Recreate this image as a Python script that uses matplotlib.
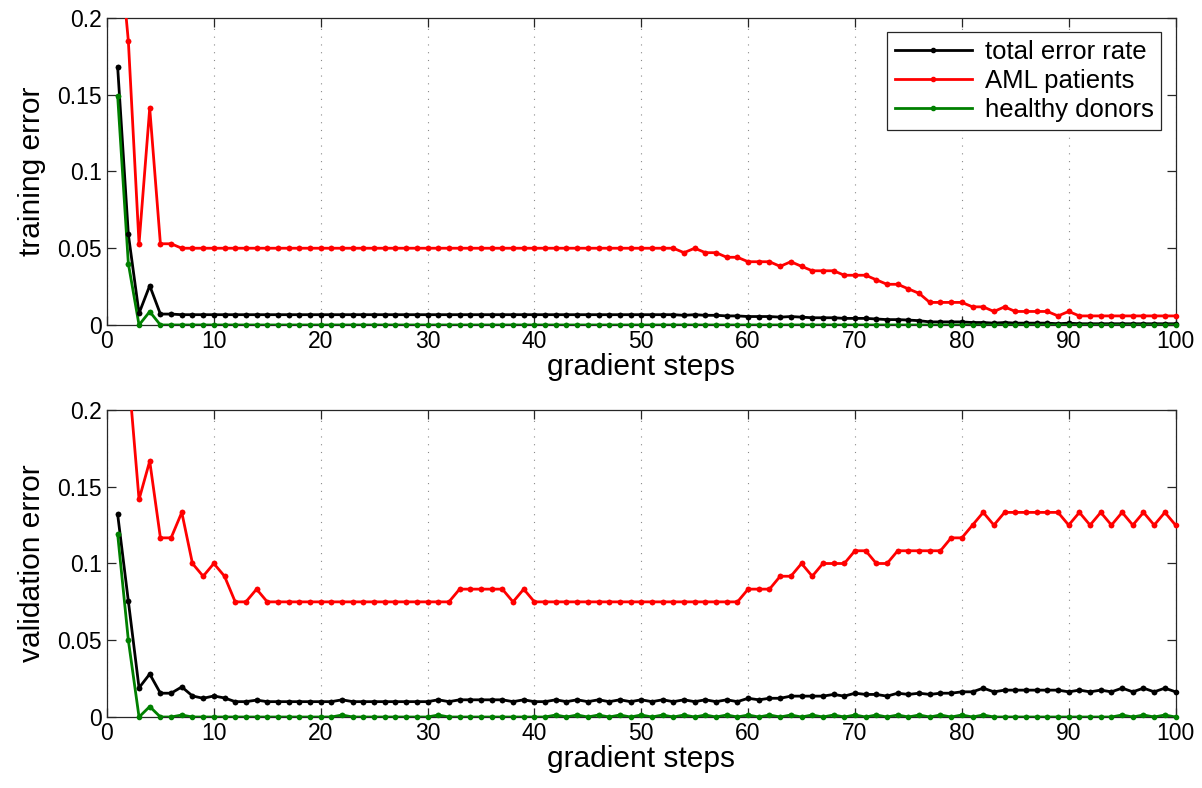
import matplotlib

matplotlib.use("Agg")
import matplotlib.pyplot as plt
import numpy as np

plt.rcParams["font.family"] = ["Liberation Sans", "DejaVu Sans"]

steps = np.arange(1, 101)

train_total = [
    0.168, 0.059, 0.0076, 0.0256, 0.0071, 0.0071, 0.0067, 0.0067, 0.0067, 0.0067,
    0.0067, 0.0067, 0.0067, 0.0067, 0.0067, 0.0067, 0.0067, 0.0067, 0.0067, 0.0067,
    0.0067, 0.0067, 0.0067, 0.0067, 0.0067, 0.0067, 0.0067, 0.0067, 0.0067, 0.0067,
    0.0067, 0.0067, 0.0067, 0.0067, 0.0067, 0.0067, 0.0067, 0.0067, 0.0067, 0.0067,
    0.0067, 0.0067, 0.0067, 0.0067, 0.0067, 0.0067, 0.0067, 0.0067, 0.0067, 0.0067,
    0.0067, 0.0067, 0.0067, 0.0063, 0.0067, 0.0063, 0.0063, 0.0059, 0.0059, 0.0055,
    0.0055, 0.0055, 0.0051, 0.0055, 0.0051, 0.0047, 0.0047, 0.0047, 0.0043, 0.0043,
    0.0043, 0.0039, 0.0035, 0.0035, 0.0032, 0.0028, 0.0020, 0.0020, 0.0020, 0.0020,
    0.0016, 0.0016, 0.0012, 0.0016, 0.0012, 0.0012, 0.0012, 0.0012, 0.0008, 0.0012,
    0.0008, 0.0008, 0.0008, 0.0008, 0.0008, 0.0008, 0.0008, 0.0008, 0.0008, 0.0008,
]
train_aml = [
    0.26, 0.185, 0.0529, 0.1412, 0.0529, 0.0529, 0.05, 0.05, 0.05, 0.05,
    0.05, 0.05, 0.05, 0.05, 0.05, 0.05, 0.05, 0.05, 0.05, 0.05,
    0.05, 0.05, 0.05, 0.05, 0.05, 0.05, 0.05, 0.05, 0.05, 0.05,
    0.05, 0.05, 0.05, 0.05, 0.05, 0.05, 0.05, 0.05, 0.05, 0.05,
    0.05, 0.05, 0.05, 0.05, 0.05, 0.05, 0.05, 0.05, 0.05, 0.05,
    0.05, 0.05, 0.05, 0.0471, 0.05, 0.0471, 0.0471, 0.0441, 0.0441, 0.0412,
    0.0412, 0.0412, 0.0382, 0.0412, 0.0382, 0.0353, 0.0353, 0.0353, 0.0324, 0.0324,
    0.0324, 0.0294, 0.0265, 0.0265, 0.0235, 0.0206, 0.0147, 0.0147, 0.0147, 0.0147,
    0.0118, 0.0118, 0.0088, 0.0118, 0.0088, 0.0088, 0.0088, 0.0088, 0.0059, 0.0088,
    0.0059, 0.0059, 0.0059, 0.0059, 0.0059, 0.0059, 0.0059, 0.0059, 0.0059, 0.0059,
]
train_healthy = [
    0.149, 0.040, 0, 0.0087, 0, 0, 0, 0, 0, 0,
    0, 0, 0, 0, 0, 0, 0, 0, 0, 0,
    0, 0, 0, 0, 0, 0, 0, 0, 0, 0,
    0, 0, 0, 0, 0, 0, 0, 0, 0, 0,
    0, 0, 0, 0, 0, 0, 0, 0, 0, 0,
    0, 0, 0, 0, 0, 0, 0, 0, 0, 0,
    0, 0, 0, 0, 0, 0, 0, 0, 0, 0,
    0, 0, 0, 0, 0, 0, 0, 0, 0, 0,
    0, 0, 0, 0, 0, 0, 0, 0, 0, 0,
    0, 0, 0, 0, 0, 0, 0, 0, 0, 0,
]

valid_total = [
    0.132, 0.0755, 0.019, 0.028, 0.0155, 0.0155, 0.0196, 0.0137, 0.0122, 0.0137,
    0.0124, 0.01, 0.01, 0.011, 0.01, 0.01, 0.01, 0.01, 0.01, 0.01,
    0.01, 0.0112, 0.01, 0.01, 0.01, 0.01, 0.01, 0.01, 0.01, 0.01,
    0.0112, 0.01, 0.0112, 0.0112, 0.0112, 0.0112, 0.0112, 0.01, 0.0112, 0.01,
    0.01, 0.0112, 0.01, 0.0112, 0.01, 0.0112, 0.01, 0.0112, 0.01, 0.0112,
    0.01, 0.0112, 0.01, 0.0112, 0.01, 0.0112, 0.01, 0.0112, 0.01, 0.0122,
    0.0112, 0.0122, 0.0122, 0.0136, 0.0136, 0.0136, 0.0136, 0.0147, 0.0136, 0.0155,
    0.0147, 0.0147, 0.0136, 0.0155, 0.0147, 0.0155, 0.0147, 0.0155, 0.0155, 0.0164,
    0.0164, 0.0188, 0.0164, 0.0175, 0.0175, 0.0175, 0.0175, 0.0175, 0.0175, 0.0164,
    0.0175, 0.0164, 0.0175, 0.0164, 0.0188, 0.0164, 0.0188, 0.0164, 0.0188, 0.0164,
]
valid_aml = [
    0.30, 0.225, 0.1417, 0.1667, 0.1167, 0.1167, 0.1333, 0.1, 0.0917, 0.1,
    0.0917, 0.075, 0.075, 0.0833, 0.075, 0.075, 0.075, 0.075, 0.075, 0.075,
    0.075, 0.075, 0.075, 0.075, 0.075, 0.075, 0.075, 0.075, 0.075, 0.075,
    0.075, 0.075, 0.0833, 0.0833, 0.0833, 0.0833, 0.0833, 0.075, 0.0833, 0.075,
    0.075, 0.075, 0.075, 0.075, 0.075, 0.075, 0.075, 0.075, 0.075, 0.075,
    0.075, 0.075, 0.075, 0.075, 0.075, 0.075, 0.075, 0.075, 0.075, 0.0833,
    0.0833, 0.0833, 0.0917, 0.0917, 0.1, 0.0917, 0.1, 0.1, 0.1, 0.1083,
    0.1083, 0.1, 0.1, 0.1083, 0.1083, 0.1083, 0.1083, 0.1083, 0.1167, 0.1167,
    0.125, 0.1333, 0.125, 0.1333, 0.1333, 0.1333, 0.1333, 0.1333, 0.1333, 0.125,
    0.1333, 0.125, 0.1333, 0.125, 0.1333, 0.125, 0.1333, 0.125, 0.1333, 0.125,
]
valid_healthy = [
    0.119, 0.05, 0, 0.0068, 0, 0, 0.0013, 0, 0, 0,
    0, 0, 0, 0, 0, 0, 0, 0, 0, 0,
    0, 0.0013, 0, 0, 0, 0, 0, 0, 0, 0,
    0.0013, 0, 0, 0, 0, 0, 0, 0, 0, 0,
    0, 0.0013, 0, 0.0013, 0, 0.0013, 0, 0.0013, 0, 0.0013,
    0, 0.0013, 0, 0.0013, 0, 0.0013, 0, 0.0013, 0, 0.0013,
    0, 0.0013, 0, 0.0013, 0, 0.0013, 0, 0.0013, 0, 0.0013,
    0, 0.0013, 0, 0.0013, 0, 0.0013, 0, 0.0013, 0, 0.0013,
    0, 0.0013, 0, 0, 0, 0, 0, 0, 0, 0,
    0, 0, 0, 0, 0.0013, 0, 0.0013, 0, 0.0013, 0,
]

series_labels = ["total error rate", "AML patients", "healthy donors"]
series_colors = ["black", "#ff0000", "#008000"]
x_ticks = [0, 10, 20, 30, 40, 50, 60, 70, 80, 90, 100]
y_ticks = [0, 0.05, 0.1, 0.15, 0.2]
y_tick_labels = ["0", "0.05", "0.1", "0.15", "0.2"]

AXIS_COLOR = "#262626"
YMAX = 0.2


def draw_panel(ax, series, ylabel, legend=False):
    for values, label, color in zip(series, series_labels, series_colors):
        values = np.asarray(values, dtype=float)
        ax.plot(steps, values, color=color, linewidth=2.0, marker=".",
                markersize=6, label=label, zorder=3)
        # markers on the axes edge are not cut, like the original
        inside = np.where(values <= YMAX, values, np.nan)
        ax.plot(steps, inside, linestyle="none", color=color, marker=".",
                markersize=6, clip_on=False, zorder=4)
    ax.set_xlim(0, 100)
    ax.set_ylim(0, YMAX)
    ax.set_xticks(x_ticks)
    ax.set_yticks(y_ticks)
    ax.set_yticklabels(y_tick_labels)
    ax.tick_params(direction="in", length=6.5, width=0.9, top=True, right=True,
                   labelsize=16.5, color=AXIS_COLOR, pad=3.5)
    ax.grid(True, axis="x", linestyle=(0, (1, 6)), color="#8a8a8a", linewidth=0.8)
    for spine in ax.spines.values():
        spine.set_color(AXIS_COLOR)
        spine.set_linewidth(0.9)
    ax.set_xlabel("gradient steps", fontsize=21.5, labelpad=0)
    ax.set_ylabel(ylabel, fontsize=21.5, labelpad=8)
    if legend:
        leg = ax.legend(loc="upper right", fontsize=18.5, handlelength=3.0,
                        labelspacing=0.2, borderpad=0.3, borderaxespad=0.55,
                        handletextpad=0.5, fancybox=False, framealpha=1)
        leg.get_frame().set_edgecolor(AXIS_COLOR)
        leg.get_frame().set_linewidth(0.9)


fig = plt.figure(figsize=(12.02, 7.88), dpi=100)
ax_top = fig.add_axes([0.089, 0.5876, 0.889, 0.3896])
ax_bot = fig.add_axes([0.089, 0.0901, 0.889, 0.3896])

draw_panel(ax_top, [train_total, train_aml, train_healthy], "training error", legend=True)
draw_panel(ax_bot, [valid_total, valid_aml, valid_healthy], "validation error")

fig.savefig("out.png", dpi=100)
plt.close(fig)
